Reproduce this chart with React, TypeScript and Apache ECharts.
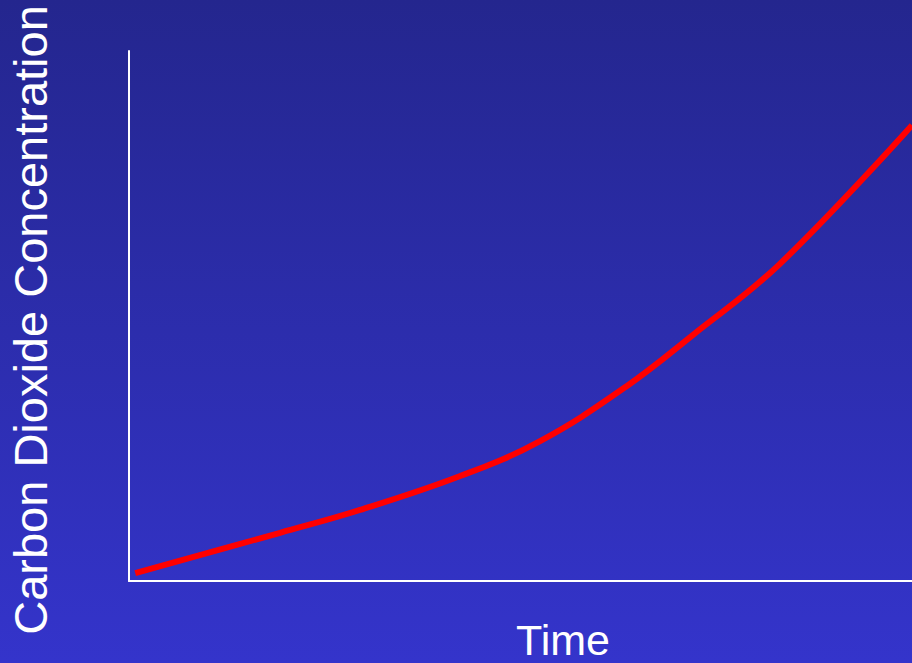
import React, { useEffect, useRef } from "react";
import * as echarts from "echarts";

const timeValues = [0.8, 19.3, 29.5, 42.3, 52.5, 63.6, 72.0, 83.1, 100];
const co2Values = [1.5, 9.1, 13.4, 19.8, 26.4, 36.8, 46.4, 59.8, 86.0];
const xAxisTitle = "Time";
const yAxisTitle = "Carbon Dioxide Concentration";

export default function App() {
  const ref = useRef<HTMLDivElement>(null);
  useEffect(() => {
    document.body.style.margin = "0";
    const chart = echarts.init(ref.current!, null, { renderer: "svg" });
    const data = timeValues.map((t, i) => [t, co2Values[i]]);
    chart.setOption({
      animation: false,
      backgroundColor: new echarts.graphic.LinearGradient(0, 0, 0, 1, [
        { offset: 0, color: "#24268e" },
        { offset: 1, color: "#3434cb" },
      ]),
      grid: { left: 129, right: 0, top: 51, bottom: 82 },
      xAxis: {
        type: "value",
        min: 0,
        max: 100,
        axisLine: { show: true, lineStyle: { color: "#ffffff", width: 2 } },
        axisTick: { show: false },
        axisLabel: { show: false },
        splitLine: { show: false },
      },
      yAxis: {
        type: "value",
        min: 0,
        max: 100,
        axisLine: { show: true, lineStyle: { color: "#ffffff", width: 2 } },
        axisTick: { show: false },
        axisLabel: { show: false },
        splitLine: { show: false },
      },
      graphic: [
        {
          type: "text",
          x: 563,
          y: 640,
          style: {
            text: xAxisTitle,
            fill: "#ffffff",
            font: "43px 'Liberation Sans', Arial, sans-serif",
            align: "center",
            verticalAlign: "middle",
          },
        },
        {
          type: "text",
          x: 30,
          y: 320,
          rotation: Math.PI / 2,
          style: {
            text: yAxisTitle,
            fill: "#ffffff",
            font: "47px 'Liberation Sans', Arial, sans-serif",
            align: "center",
            verticalAlign: "middle",
          },
        },
      ],
      series: [
        {
          type: "line",
          data,
          smooth: 0.4,
          showSymbol: false,
          lineStyle: { color: "#ff0000", width: 6 },
        },
      ],
    });
    return () => chart.dispose();
  }, []);
  return (
    <div
      ref={ref}
      style={{ position: "fixed", left: 0, top: 0, width: 912, height: 663 }}
    />
  );
}
